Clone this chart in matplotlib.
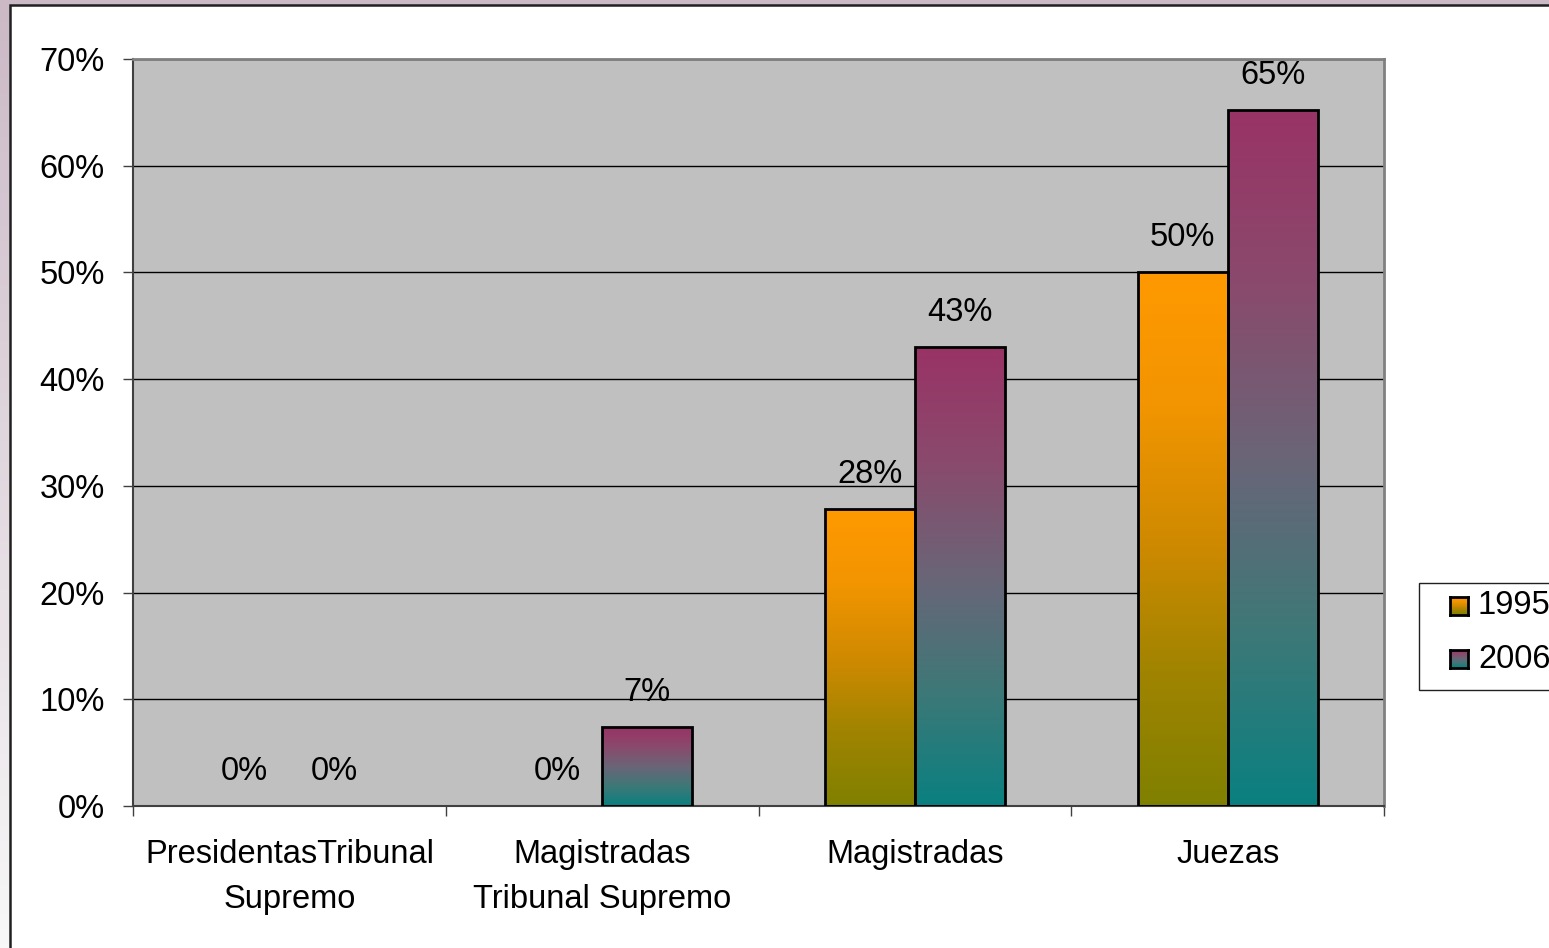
#!/usr/bin/env python3

import matplotlib.pyplot as plt
import numpy as np
from matplotlib.colors import LinearSegmentedColormap
from matplotlib.patches import Rectangle

categories = ['PresidentasTribunal\nSupremo', 'Magistradas\nTribunal Supremo', 'Magistradas', 'Juezas']
years = ['1995', '2006']
vals_1995 = [0, 0, 27.8, 50.0]
vals_2006 = [0, 7.4, 43.0, 65.2]
yticks = [0, 10, 20, 30, 40, 50, 60, 70]

#gradient colours, bottom -> top
cmap_1995 = LinearSegmentedColormap.from_list('c95', [(0, '#808000'), (0.25, '#A08400'), (0.5, '#D08A00'),
	(0.75, '#F29500'), (1, '#FF9900')])
cmap_2006 = LinearSegmentedColormap.from_list('c06', [(0, '#0A8080'), (0.25, '#3E7878'), (0.5, '#6A6577'),
	(0.75, '#8A4A6D'), (1, '#993366')])

plt.rcParams['font.family'] = ['Liberation Sans', 'DejaVu Sans']
FS = 23.5

W, H = 1549, 948
fig = plt.figure(figsize=(W / 100, H / 100), dpi=100)

def fx(px):
	return px / W

def fy(py):
	return 1 - py / H

#Background: lavender fading to white, white panel on top
bg = fig.add_axes([0, 0, 1, 1], zorder=-10)
bg.imshow(np.linspace(0, 1, 256).reshape(-1, 1), aspect='auto', extent=[0, 1, 0, 1],
	cmap=LinearSegmentedColormap.from_list('bg', ['#CBB9C6', '#F8F8F8']), origin='upper')
bg.add_patch(Rectangle((fx(10), -0.1), 1.2, fy(5) + 0.1, facecolor='white', edgecolor='#202020', lw=1.8))
bg.set_xlim(0, 1)
bg.set_ylim(0, 1)
bg.axis('off')

#Main axes
ax = fig.add_axes([fx(133), fy(806), fx(1384) - fx(133), fy(59) - fy(806)])
ax.set_facecolor('#C0C0C0')
x = np.arange(len(categories))
w = 0.288

def grad_bars(xpos, vals, cmap):
	bars = ax.bar(xpos, vals, w, facecolor='none', edgecolor='black', lw=2, zorder=3)
	for b in bars:
		if b.get_height() <= 0:
			b.set_linewidth(0)
			continue
		x0, y0 = b.get_x(), b.get_y()
		im = ax.imshow(np.linspace(0, 1, 256).reshape(-1, 1), cmap=cmap, origin='lower', aspect='auto',
			extent=[x0, x0 + b.get_width(), y0, y0 + b.get_height()], zorder=2)
		im.set_clip_path(b)
	for xi, v in zip(xpos, vals):
		ax.annotate('%d%%' % round(v), (xi, v), xytext=(0, 25), textcoords='offset points',
			ha='center', va='center', fontsize=FS)

grad_bars(x - w / 2, vals_1995, cmap_1995)
grad_bars(x + w / 2, vals_2006, cmap_2006)

ax.set_xlim(-0.5, len(categories) - 0.5)
ax.set_ylim(0, 70)
ax.set_yticks(yticks)
ax.set_yticklabels(['%d%%' % t for t in yticks], fontsize=FS)
ax.yaxis.grid(True, color='black', lw=1)
ax.set_axisbelow(True)
ax.tick_params(axis='y', length=7.2, width=1, pad=13, color='#404040')

ax.set_xticks(x)
ax.set_xticklabels(categories, fontsize=FS, linespacing=1.57)
ax.set_xticks(np.arange(len(categories) + 1) - 0.5, minor=True)
ax.tick_params(axis='x', which='major', length=0, pad=24)
ax.tick_params(axis='x', which='minor', length=7.2, width=1, color='#404040', direction='out')

for s in ['top', 'right']:
	ax.spines[s].set_color('#808080')
	ax.spines[s].set_linewidth(2)
for s in ['left', 'bottom']:
	ax.spines[s].set_color('#404040')
	ax.spines[s].set_linewidth(1.5)

#Legend, drawn by hand so the swatches keep the gradient
bg.add_patch(Rectangle((fx(1419), fy(690)), 0.2, fy(583) - fy(690), facecolor='white', edgecolor='#202020', lw=1))
for i, (lab, cm) in enumerate(zip(years, [cmap_1995, cmap_2006])):
	top = 597 + i * 53
	sw = fig.add_axes([fx(1450), fy(top + 18), fx(18), fy(top) - fy(top + 18)])
	sw.imshow(np.linspace(0, 1, 64).reshape(-1, 1), cmap=cm, origin='lower', aspect='auto')
	sw.set_xticks([])
	sw.set_yticks([])
	for s in sw.spines.values():
		s.set_linewidth(2)
		s.set_color('black')
	fig.text(fx(1478), fy(top + 9), lab, fontsize=FS, va='center', ha='left')

plt.savefig('out.png', dpi=100)
